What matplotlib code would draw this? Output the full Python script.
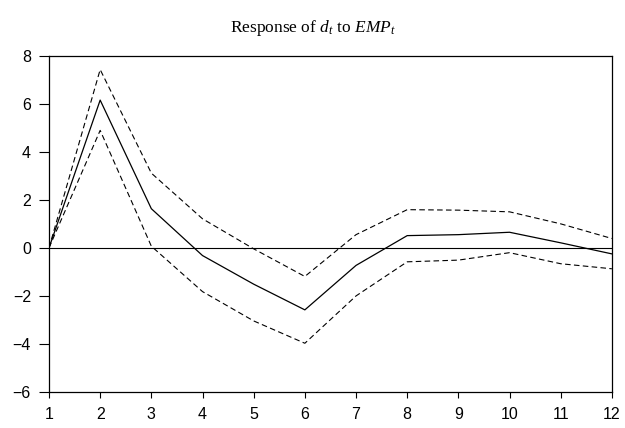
import matplotlib
matplotlib.use("Agg")
import matplotlib.pyplot as plt

# impulse response of d_t to EMP_t, with +/- 2 s.e. bands
periods = [1, 2, 3, 4, 5, 6, 7, 8, 9, 10, 11, 12]
response = [0.0, 6.15, 1.63, -0.32, -1.51, -2.58, -0.73, 0.51, 0.55, 0.65, 0.21, -0.25]
upper = [0.0, 7.42, 3.11, 1.21, -0.04, -1.19, 0.55, 1.59, 1.57, 1.50, 1.00, 0.39]
lower = [0.0, 4.89, 0.07, -1.82, -3.04, -3.97, -2.00, -0.58, -0.51, -0.20, -0.66, -0.87]
yticks = [-6, -4, -2, 0, 2, 4, 6, 8]

plt.rcParams['font.family'] = ['Liberation Sans', 'DejaVu Sans']
plt.rcParams['mathtext.fontset'] = 'custom'
plt.rcParams['mathtext.rm'] = 'Liberation Serif'
plt.rcParams['mathtext.it'] = 'Liberation Serif:italic'

fig = plt.figure(figsize=(6.25, 4.28), dpi=100)
ax = fig.add_axes([0.0784, 0.084, 0.9006, 0.786])

ax.plot(periods, response, color='black', linewidth=0.9)
ax.plot(periods, upper, color='black', linewidth=0.8, linestyle=(0, (5, 3)))
ax.plot(periods, lower, color='black', linewidth=0.8, linestyle=(0, (5, 3)))
ax.axhline(0, color='black', linewidth=0.8)

ax.set_xlim(1, 12)
ax.set_ylim(-6, 8)
ax.set_xticks(periods)
ax.set_yticks(yticks)
ax.tick_params(direction='out', width=0.8, labelsize=11.5)
ax.tick_params(axis='x', length=4, pad=7)
ax.tick_params(axis='y', length=7, pad=6)
for s in ax.spines.values():
    s.set_linewidth(0.9)

fig.text(0.5, 0.935, r'Response of $d_t$ to $EMP_t$', ha='center', va='center',
         fontsize=12.5, family='Liberation Serif')

fig.savefig('out.png', dpi=100)
